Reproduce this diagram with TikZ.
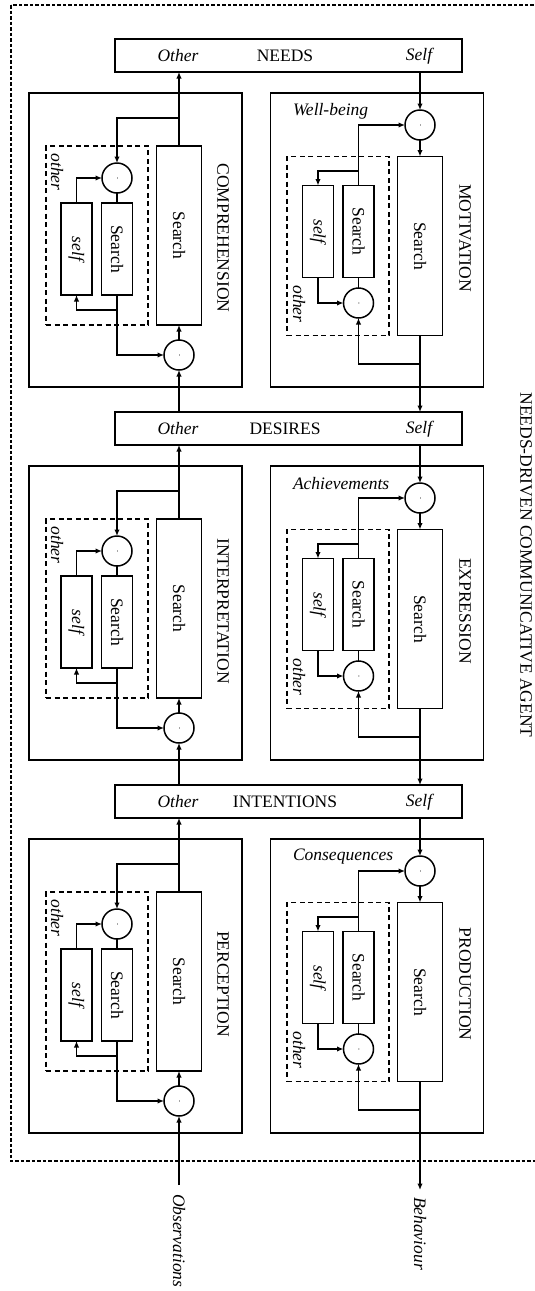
\documentclass[tikz,border=0pt]{standalone}
\usepackage{fontspec}
\setmainfont{Liberation Serif}
\usetikzlibrary{arrows.meta}
\begin{document}
\begin{tikzpicture}[x=1pt,y=-1pt,
  every node/.style={font=\fontsize{17.5}{20}\selectfont, inner sep=0pt, outer sep=0pt},
  sect/.style={draw, line width=1.6pt, minimum width=213pt, minimum height=294pt},
  bar/.style={draw, line width=1.6pt, minimum width=347pt, minimum height=33pt},
  lsrch/.style={draw, line width=1.6pt, minimum width=45pt, minimum height=179pt},
  ssrch/.style={draw, line width=1.6pt, minimum width=31pt, minimum height=92pt},
  dbox/.style={draw, dash pattern=on 5pt off 3.5pt, line width=1.5pt, minimum width=102pt, minimum height=179pt},
  sum/.style={circle, draw, line width=1.5pt, minimum size=30pt},
  arr/.style={line width=1.4pt, -{Latex[length=6.5pt,width=5.5pt]}},
  ln/.style={line width=1.4pt}
]
\useasboundingbox (0,0) rectangle (535,1291);
\clip (0,0) rectangle (535,1291);
\fill[white] (0,0) rectangle (535,1291);

% outer agent frame
\draw[line width=1.2pt, dash pattern=on 3.5pt off 2pt] (11,5) rectangle (560,1161);
\node (title) at (526,565) {\rotatebox{-90}{NEEDS-DRIVEN COMMUNICATIVE AGENT}};

\foreach \i/\d/\bl/\ll/\rl/\tl in {1/0/NEEDS/COMPREHENSION/MOTIVATION/Well-being,
   2/373/DESIRES/INTERPRETATION/EXPRESSION/Achievements,
   3/746/INTENTIONS/PERCEPTION/PRODUCTION/Consequences}{
 \begin{scope}[yshift={-\d pt}]
  % bar above the section
  \node[bar] (bar\i) at (288.5,55.5) {};
  \node (bar\i o) at (178,56) {\itshape Other};
  \node (bar\i t) at (285,56) {\bl};
  \node (bar\i s) at (419,56) {\itshape Self};

  % ---- left section ----
  \node[sect] (Lbox\i) at (135.5,240) {};
  \node[dbox] (Ldash\i) at (97,235.5) {};
  \node[lsrch] (Lsrch\i) at (179,235.5) {\rotatebox{-90}{Search}};
  \node[ssrch] (Lself\i) at (76.5,249) {\rotatebox{-90}{\itshape self}};
  \node[ssrch] (Lss\i) at (117,249) {\rotatebox{-90}{Search}};
  \node[sum] (Ltop\i) at (117,178) {\rotatebox{-90}{\fontsize{6}{6}\selectfont -}};
  \node[sum] (Lbot\i) at (179,355) {\rotatebox{-90}{\fontsize{6}{6}\selectfont -}};
  \node (Llab\i) at (223,238) {\rotatebox{-90}{\ll}};
  \node (Loth\i) at (57,172) {\rotatebox{-90}{\itshape other}};
  \coordinate (Lbr\i) at (179,118);
  \coordinate (Lbs\i) at (117,310);

  \draw[arr] (Lsrch\i.north) -- (Lsrch\i.north |- bar\i.south);
  \draw[arr] (Lbr\i) -| (Ltop\i.north);
  \draw[arr] (Lself\i.north) |- (Ltop\i.west);
  \draw[ln] (Ltop\i.south) -- (Lss\i.north);
  \draw[arr] (Lss\i.south) |- (Lbot\i.west);
  \draw[arr] (Lbs\i) -| (Lself\i.south);
  \draw[arr] (Lbot\i.north) -- (Lsrch\i.south);

  % ---- right section ----
  \node[sect] (Rbox\i) at (377,240) {};
  \node[dbox] (Rdash\i) at (338,246) {};
  \node[lsrch] (Rsrch\i) at (420,246) {\rotatebox{-90}{Search}};
  \node[ssrch] (Rself\i) at (318,231.5) {\rotatebox{-90}{\itshape self}};
  \node[ssrch] (Rss\i) at (358.5,231.5) {\rotatebox{-90}{Search}};
  \node[sum] (Rtop\i) at (420,125) {\rotatebox{-90}{\fontsize{6}{6}\selectfont -}};
  \node[sum] (Rsm\i) at (358.5,303) {\rotatebox{-90}{\fontsize{6}{6}\selectfont -}};
  \node (Rlab\i) at (465,238) {\rotatebox{-90}{\rl}};
  \node (Roth\i) at (299,304) {\rotatebox{-90}{\itshape other}};
  \node[anchor=west] (Rtl\i) at (293,111) {\itshape \tl};
  \coordinate (Rbr\i) at (358.5,171);
  \coordinate (Rbs\i) at (420,364);

  \draw[arr] (Rtop\i.north |- bar\i.south) -- (Rtop\i.north);
  \draw[arr] (Rtop\i.south) -- (Rsrch\i.north);
  \draw[arr] (Rss\i.north) |- (Rtop\i.west);
  \draw[arr] (Rbr\i) -| (Rself\i.north);
  \draw[arr] (Rself\i.south) |- (Rsm\i.west);
  \draw[ln] (Rss\i.south) -- (Rsm\i.north);
  \draw[arr] (Rbs\i) -| (Rsm\i.south);
 \end{scope}
}

% inputs and outputs
\node[anchor=north, inner ysep=9pt] (obs) at (179,1185) {\rotatebox{-90}{\itshape Observations}};
\node[anchor=north, inner ysep=7pt] (beh) at (420,1190) {\rotatebox{-90}{\itshape Behaviour}};

% connections between sections
\draw[arr] (Lbot1.south |- bar2.north) -- (Lbot1.south);
\draw[arr] (Lbot2.south |- bar3.north) -- (Lbot2.south);
\draw[arr] (obs.north) -- (Lbot3.south);
\draw[arr] (Rsrch1.south) -- (Rsrch1.south |- bar2.north);
\draw[arr] (Rsrch2.south) -- (Rsrch2.south |- bar3.north);
\draw[arr] (Rsrch3.south) -- (beh.north);
\end{tikzpicture}
\end{document}
